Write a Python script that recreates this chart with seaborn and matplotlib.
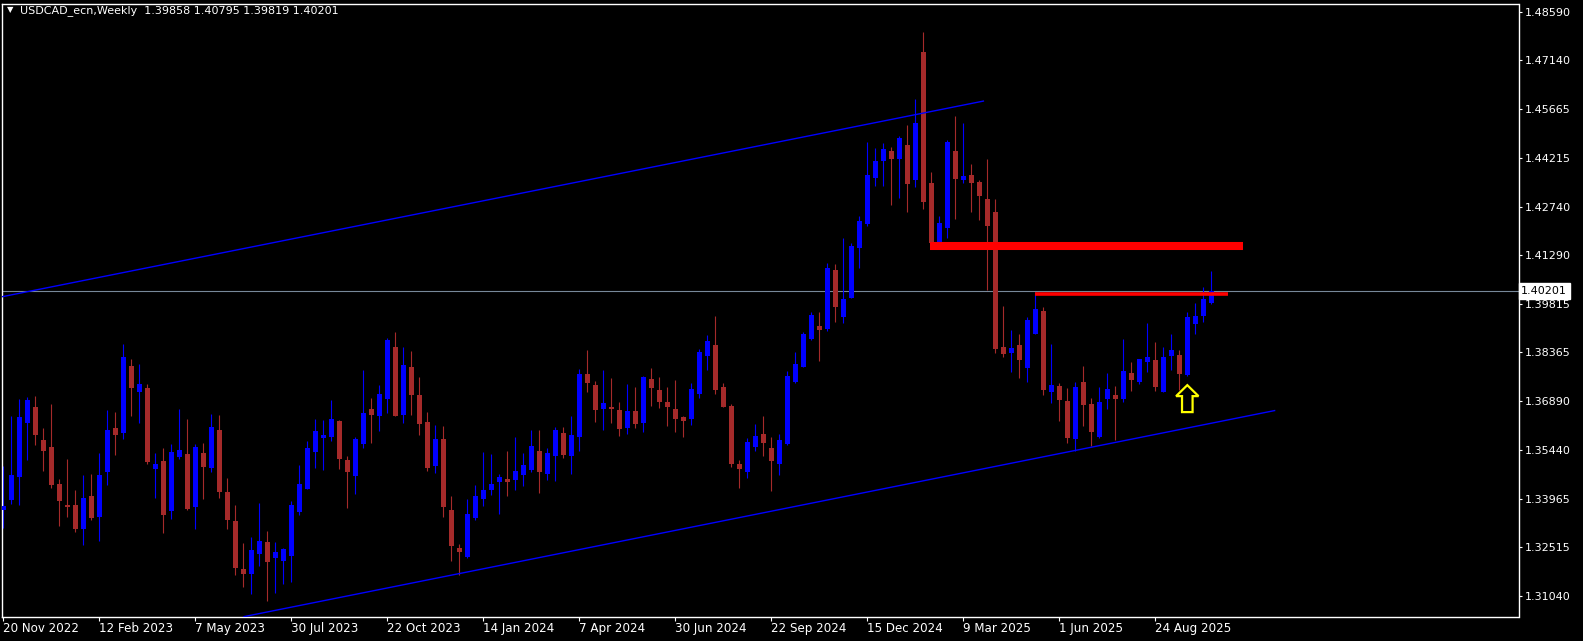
import numpy as np
import pandas as pd
import matplotlib
matplotlib.use("Agg")
import matplotlib.pyplot as plt
from matplotlib.patches import Polygon
import seaborn as sns

# weekly USDCAD candles, week index 0 = 20 Nov 2022
opens = [1.3364, 1.3392, 1.3461, 1.3625, 1.3673, 1.3574, 1.3553, 1.3442, 1.3379, 1.3379,
         1.3305, 1.3406, 1.3341, 1.3476, 1.3610, 1.3595, 1.3796, 1.3718, 1.3730, 1.3487,
         1.3511, 1.3361, 1.3523, 1.3532, 1.3373, 1.3535, 1.3490, 1.3604, 1.3418, 1.3331,
         1.3187, 1.3172, 1.3232, 1.3268, 1.3220, 1.3211, 1.3226, 1.3358, 1.3427, 1.3538,
         1.3580, 1.3583, 1.3631, 1.3514, 1.3466, 1.3562, 1.3667, 1.3646, 1.3697, 1.3853,
         1.3649, 1.3793, 1.3709, 1.3628, 1.3496, 1.3577, 1.3364, 1.3250, 1.3223, 1.3340,
         1.3397, 1.3424, 1.3448, 1.3457, 1.3454, 1.3469, 1.3484, 1.3541, 1.3472, 1.3526,
         1.3595, 1.3526, 1.3583, 1.3772, 1.3739, 1.3667, 1.3673, 1.3664, 1.3610, 1.3661,
         1.3625, 1.3757, 1.3724, 1.3688, 1.3667, 1.3643, 1.3637, 1.3712, 1.3826, 1.3859,
         1.3733, 1.3676, 1.3502, 1.3478, 1.3553, 1.3592, 1.3548, 1.3502, 1.3560, 1.3746,
         1.3794, 1.3878, 1.3917, 1.3908, 1.4085, 1.3944, 1.4000, 1.4151, 1.4223, 1.4361,
         1.4412, 1.4442, 1.4418, 1.4460, 1.4355, 1.4739, 1.4346, 1.4157, 1.4211, 1.4442,
         1.4355, 1.4370, 1.4349, 1.4298, 1.4259, 1.3854, 1.3836, 1.3860, 1.3791, 1.3893,
         1.3962, 1.3716, 1.3734, 1.3689, 1.3575, 1.3746, 1.3680, 1.3581, 1.3695, 1.3707,
         1.3695, 1.3773, 1.3746, 1.3809, 1.3814, 1.3718, 1.3826, 1.3829, 1.3769, 1.3922,
         1.3946, 1.39858]
highs = [1.3494, 1.3644, 1.3697, 1.3702, 1.3704, 1.3610, 1.3682, 1.3457, 1.3517, 1.3424,
         1.3469, 1.3472, 1.3535, 1.3664, 1.3658, 1.3862, 1.3817, 1.3802, 1.3742, 1.3535,
         1.3550, 1.3562, 1.3667, 1.3637, 1.3562, 1.3565, 1.3652, 1.3649, 1.3460, 1.3379,
         1.3265, 1.3283, 1.3385, 1.3301, 1.3268, 1.3250, 1.3391, 1.3499, 1.3571, 1.3637,
         1.3634, 1.3694, 1.3634, 1.3526, 1.3583, 1.3784, 1.3700, 1.3739, 1.3880, 1.3898,
         1.3853, 1.3841, 1.3763, 1.3658, 1.3619, 1.3616, 1.3406, 1.3262, 1.3397, 1.3439,
         1.3538, 1.3532, 1.3472, 1.3541, 1.3583, 1.3535, 1.3604, 1.3604, 1.3550, 1.3613,
         1.3613, 1.3646, 1.3787, 1.3844, 1.3751, 1.3784, 1.3760, 1.3688, 1.3742, 1.3733,
         1.3766, 1.3790, 1.3763, 1.3733, 1.3754, 1.3646, 1.3745, 1.3847, 1.3889, 1.3946,
         1.3745, 1.3682, 1.3514, 1.3580, 1.3622, 1.3646, 1.3581, 1.3590, 1.3782, 1.3839,
         1.3899, 1.3959, 1.3959, 1.4106, 1.4103, 1.4181, 1.4166, 1.4247, 1.4469, 1.4451,
         1.4466, 1.4454, 1.4487, 1.4520, 1.4598, 1.4799, 1.4379, 1.4247, 1.4475, 1.4547,
         1.4526, 1.4403, 1.4355, 1.4418, 1.4298, 1.3977, 1.3905, 1.3893, 1.3944, 1.4019,
         1.3974, 1.3863, 1.3743, 1.3728, 1.3746, 1.3797, 1.3698, 1.3731, 1.3773, 1.3734,
         1.3878, 1.3809, 1.3818, 1.3926, 1.3868, 1.3853, 1.3892, 1.3844, 1.3958, 1.3985,
         1.4033, 1.40795]
lows = [1.3309, 1.3382, 1.3379, 1.3514, 1.3557, 1.3479, 1.3428, 1.3316, 1.3343, 1.3296,
        1.3257, 1.3332, 1.3269, 1.3437, 1.3529, 1.3577, 1.3646, 1.3625, 1.3502, 1.3400,
        1.3295, 1.3337, 1.3517, 1.3364, 1.3307, 1.3397, 1.3478, 1.3400, 1.3307, 1.3169,
        1.3130, 1.3109, 1.3196, 1.3089, 1.3112, 1.3139, 1.3145, 1.3349, 1.3427, 1.3490,
        1.3484, 1.3571, 1.3487, 1.3370, 1.3412, 1.3550, 1.3565, 1.3601, 1.3655, 1.3646,
        1.3625, 1.3649, 1.3589, 1.3481, 1.3475, 1.3343, 1.3211, 1.3169, 1.3220, 1.3334,
        1.3376, 1.3409, 1.3352, 1.3406, 1.3424, 1.3436, 1.3478, 1.3415, 1.3454, 1.3451,
        1.3520, 1.3472, 1.3541, 1.3718, 1.3628, 1.3604, 1.3625, 1.3586, 1.3592, 1.3610,
        1.3598, 1.3676, 1.3670, 1.3616, 1.3598, 1.3583, 1.3619, 1.3700, 1.3784, 1.3712,
        1.3673, 1.3493, 1.3430, 1.3460, 1.3541, 1.3526, 1.3420, 1.3467, 1.3557, 1.3743,
        1.3794, 1.3875, 1.3812, 1.3902, 1.3929, 1.3926, 1.4000, 1.4091, 1.4217, 1.4337,
        1.4337, 1.4280, 1.4301, 1.4259, 1.4334, 1.4268, 1.4166, 1.4157, 1.4181, 1.4238,
        1.4346, 1.4259, 1.4235, 1.4025, 1.3836, 1.3824, 1.3779, 1.3758, 1.3746, 1.3893,
        1.3707, 1.3683, 1.3629, 1.3563, 1.3539, 1.3614, 1.3554, 1.3578, 1.3665, 1.3572,
        1.3686, 1.3719, 1.3740, 1.3779, 1.3721, 1.3718, 1.3784, 1.3724, 1.3766, 1.3892,
        1.3928, 1.39819]
closes = [1.3374, 1.3469, 1.3643, 1.3694, 1.3589, 1.3539, 1.3439, 1.3389, 1.3373, 1.3305,
          1.3400, 1.3338, 1.3469, 1.3604, 1.3589, 1.3823, 1.3730, 1.3742, 1.3508, 1.3502,
          1.3349, 1.3538, 1.3544, 1.3367, 1.3553, 1.3493, 1.3613, 1.3418, 1.3334, 1.3190,
          1.3172, 1.3244, 1.3271, 1.3208, 1.3238, 1.3247, 1.3379, 1.3442, 1.3550, 1.3601,
          1.3589, 1.3637, 1.3517, 1.3478, 1.3577, 1.3655, 1.3649, 1.3712, 1.3874, 1.3646,
          1.3799, 1.3709, 1.3622, 1.3490, 1.3577, 1.3373, 1.3256, 1.3238, 1.3352, 1.3406,
          1.3424, 1.3442, 1.3463, 1.3448, 1.3481, 1.3499, 1.3556, 1.3478, 1.3535, 1.3604,
          1.3529, 1.3589, 1.3772, 1.3745, 1.3664, 1.3685, 1.3667, 1.3607, 1.3661, 1.3622,
          1.3763, 1.3730, 1.3688, 1.3673, 1.3637, 1.3631, 1.3727, 1.3838, 1.3871, 1.3724,
          1.3673, 1.3502, 1.3487, 1.3568, 1.3586, 1.3565, 1.3509, 1.3574, 1.3764, 1.3803,
          1.3893, 1.3950, 1.3905, 1.4091, 1.3974, 1.3998, 1.4157, 1.4232, 1.4370, 1.4412,
          1.4448, 1.4418, 1.4481, 1.4343, 1.4526, 1.4289, 1.4166, 1.4226, 1.4469, 1.4358,
          1.4367, 1.4346, 1.4307, 1.4217, 1.3848, 1.3833, 1.3851, 1.3815, 1.3935, 1.3968,
          1.3722, 1.3737, 1.3692, 1.3578, 1.3731, 1.3677, 1.3596, 1.3686, 1.3725, 1.3695,
          1.3782, 1.3752, 1.3818, 1.3824, 1.3733, 1.3823, 1.3844, 1.3772, 1.3943, 1.3946,
          1.3997, 1.40201]

price_ticks = [1.48590, 1.47140, 1.45665, 1.44215, 1.42740, 1.41290, 1.39815,
               1.38365, 1.36890, 1.35440, 1.33965, 1.32515, 1.31040]
date_labels = ["20 Nov 2022", "12 Feb 2023", "7 May 2023", "30 Jul 2023", "22 Oct 2023",
               "14 Jan 2024", "7 Apr 2024", "30 Jun 2024", "22 Sep 2024", "15 Dec 2024",
               "9 Mar 2025", "1 Jun 2025", "24 Aug 2025"]
date_weeks = [0, 12, 24, 36, 48, 60, 72, 84, 96, 108, 120, 132, 144]

# drawn objects (week index, price)
upper_trend_x = [-0.5, 122.6]
upper_trend_y = [1.4002, 1.4592]
lower_trend_x = [30.0, 159.0]
lower_trend_y = [1.3042, 1.3662]
resist_x = [115.8, 155.0]
resist_y = [1.4156, 1.4156]
level_x = [129.0, 153.1]
level_y = [1.4013, 1.4013]
last_price = 1.40201
arrow_week = 148.0
arrow_tip, arrow_neck, arrow_base = 1.3738, 1.3705, 1.3657

df = pd.DataFrame({"week": np.arange(len(opens)), "open": opens, "high": highs,
                   "low": lows, "close": closes})

sns.set_theme(style="dark", rc={"axes.facecolor": "black", "figure.facecolor": "black",
                                "axes.edgecolor": "white", "axes.grid": False})
plt.rcParams["font.family"] = ["DejaVu Sans"]

fig = plt.figure(figsize=(15.83, 6.41), dpi=100)
ax = fig.add_axes([2.3 / 1583, 1 - 617 / 641, (1518.5 - 2.3) / 1583, (617 - 3.5) / 641])
ax.set_facecolor("black")

bull = df["close"] >= df["open"]
colors = np.where(bull, "#0000FF", "#A52A2A")
ax.vlines(df["week"], df["low"], df["high"], colors=colors, linewidth=0.8, zorder=2)
body_lo = np.minimum(df["open"], df["close"])
body_h = np.maximum((df["close"] - df["open"]).abs(), 0.0004)
ax.bar(df["week"], body_h, bottom=body_lo, width=0.62, color=colors, linewidth=0, zorder=3)

# current price line
ax.axhline(last_price, color="#778899", linewidth=0.8, zorder=1)

# trend lines and levels
sns.lineplot(x=upper_trend_x, y=upper_trend_y, ax=ax, color="#0000FF", linewidth=1.0, zorder=4)
sns.lineplot(x=lower_trend_x, y=lower_trend_y, ax=ax, color="#0000FF", linewidth=1.0, zorder=4)
sns.lineplot(x=resist_x, y=resist_y, ax=ax, color="#FF0000", linewidth=5.8, zorder=4)
sns.lineplot(x=level_x, y=level_y, ax=ax, color="#FF0000", linewidth=2.6, zorder=4)
for ln in ax.lines:
    ln.set_solid_capstyle("butt")

# up arrow marker
hw, sw = 1.4, 0.66
arrow_pts = [(arrow_week, arrow_tip), (arrow_week + hw, arrow_neck), (arrow_week + sw, arrow_neck),
             (arrow_week + sw, arrow_base), (arrow_week - sw, arrow_base),
             (arrow_week - sw, arrow_neck), (arrow_week - hw, arrow_neck)]
ax.add_patch(Polygon(arrow_pts, closed=True, facecolor="black", edgecolor="#FFFF00",
                     linewidth=1.6, zorder=5))

ax.set_xlim(-0.125, 189.4)
ax.set_ylim(1.30413, 1.48848)

for sp in ax.spines.values():
    sp.set_color("white")
    sp.set_linewidth(1.0)

ax.yaxis.tick_right()
ax.set_yticks(price_ticks)
ax.set_yticklabels([f"{p:.5f}" for p in price_ticks])
ax.tick_params(axis="y", colors="white", labelcolor="white", length=2.5, width=0.8,
               pad=2.0, labelsize=8, direction="out", right=True, left=False)
for lab in ax.get_yticklabels():
    lab.set_horizontalalignment("left")

ax.set_xticks(date_weeks)
ax.set_xticklabels(date_labels)
ax.tick_params(axis="x", colors="white", labelcolor="white", length=3.0, width=0.8,
               pad=0.8, labelsize=8.6, direction="out", bottom=True)
for lab in ax.get_xticklabels():
    lab.set_horizontalalignment("left")
ax.set_xlabel("")
ax.set_ylabel("")

# current price tag on the axis
ax.annotate(f"{last_price:.5f}", xy=(1.0, last_price), xycoords=("axes fraction", "data"),
            xytext=(2, 0), textcoords="offset points", ha="left", va="center",
            fontsize=8, color="black", annotation_clip=False, zorder=10,
            bbox=dict(boxstyle="square,pad=0.25", facecolor="white", edgecolor="white"))

# header
fig.text(7 / 1583, 1 - 10 / 641, "\u25bc", color="white", fontsize=6, va="center", ha="left")
fig.text(20 / 1583, 1 - 11 / 641, "USDCAD_ecn,Weekly  1.39858 1.40795 1.39819 1.40201",
         color="white", fontsize=8, va="center", ha="left")

fig.savefig("out.png", dpi=100, facecolor="black")
